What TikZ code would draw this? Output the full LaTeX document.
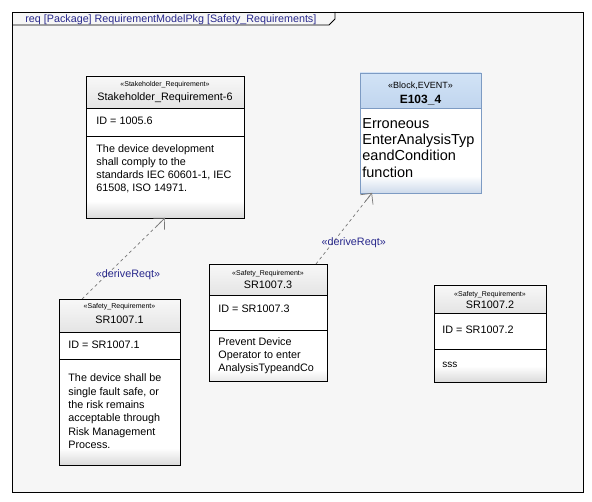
\documentclass[tikz,border=0pt]{standalone}
\usepackage{fontspec}
\setmainfont{Liberation Sans}
\usetikzlibrary{arrows.meta,calc}
\definecolor{navy}{RGB}{40,40,140}
\definecolor{framebg}{RGB}{246,246,246}
\definecolor{hdtop}{RGB}{248,248,248}
\definecolor{hdbot}{RGB}{228,228,228}
\definecolor{bandgray}{RGB}{218,218,218}
\definecolor{blkline}{RGB}{125,155,195}
\definecolor{blktop}{RGB}{210,227,246}
\definecolor{blkbot}{RGB}{192,213,238}
\definecolor{blkband}{RGB}{205,218,235}
\definecolor{linkgray}{RGB}{120,120,120}
\tikzset{
  boxframe/.style={draw,anchor=north west,inner sep=0pt,outer sep=0pt},
  stereo/.style={font=\fontsize{7}{8}\selectfont,inner sep=0pt,anchor=base},
  boxname/.style={font=\fontsize{10.8}{13}\selectfont,inner sep=0pt,anchor=base},
  idtext/.style={font=\fontsize{10.8}{13}\selectfont,inner sep=0pt,anchor=base west},
  bodytext/.style={font=\fontsize{10.8}{13.2}\selectfont,align=left,inner sep=0pt,anchor=north west},
  derive/.style={draw=linkgray,line width=0.7pt,dash pattern=on 3pt off 3pt},
  derivetip/.style={draw=linkgray,line width=0.7pt,-{Straight Barb[length=8pt,width=16pt]}},
  derivelabel/.style={text=navy,font=\fontsize{10.8}{13}\selectfont,inner sep=0pt,anchor=base},
}
\begin{document}
\begin{tikzpicture}[x=1pt,y=-1pt,line width=0.8pt]
\useasboundingbox (0,0) rectangle (592,502);
\fill[white] (0,0) rectangle (592,502);
% diagram frame
\filldraw[fill=framebg,draw=black] (12,12) rectangle (583,492);
\draw (12,25) -- (329,25) -- (335,19) -- (335,12);
\node[text=navy,font=\fontsize{10.75}{13}\selectfont,inner sep=0pt,anchor=base west] (frametitle) at (25,22.4)
  {req [Package] RequirementModelPkg [Safety\_Requirements]};

% Stakeholder_Requirement-6
\shade[top color=hdtop,bottom color=hdbot] (86,76) rectangle (244,108);
\fill[white] (86,108) rectangle (244,218);
\shade[top color=white,bottom color=bandgray] (86,201) rectangle (244,218);
\node[boxframe,minimum width=158pt,minimum height=142pt] (stk) at (86,76) {};
\draw (86,108) -- (244,108) (86,136) -- (244,136);
\node[stereo] (stkst) at (165,86.5) {«Stakeholder\_Requirement»};
\node[boxname] (stkname) at (165,100.6) {Stakeholder\_Requirement-6};
\node[idtext] (stkid) at (96,124.6) {ID = 1005.6};
\node[bodytext] (stkbody) at (96,144) {The device development\\shall comply to the\\standards IEC 60601-1, IEC\\61508, ISO 14971.};

% E103_4
\shade[top color=blktop,bottom color=blkbot] (360,73) rectangle (481,108);
\fill[white] (360,108) rectangle (481,193);
\shade[top color=white,bottom color=blkband] (360,176) rectangle (481,193);
\node[boxframe,draw=blkline,minimum width=121pt,minimum height=120pt] (blk) at (360,73) {};
\draw[blkline] (360,108) -- (481,108);
\node[stereo,font=\fontsize{9}{10}\selectfont] (blkst) at (420.5,89) {«Block,EVENT»};
\node[boxname,font=\bfseries\fontsize{12}{14}\selectfont] (blkname) at (420.5,103.6) {E103\_4};
\node[bodytext,font=\fontsize{14.5}{16.2}\selectfont] (blkbody) at (362,118.1) {Erroneous\\EnterAnalysisTyp\\eandCondition\\function};

% SR1007.1
\shade[top color=hdtop,bottom color=hdbot] (59,299) rectangle (180,332);
\fill[white] (59,332) rectangle (180,465);
\shade[top color=white,bottom color=bandgray] (59,448) rectangle (180,465);
\node[boxframe,minimum width=121pt,minimum height=166pt] (sr1) at (59,299) {};
\draw (59,332) -- (180,332) (59,359) -- (180,359);
\node[stereo] (sr1st) at (119.5,308.2) {«Safety\_Requirement»};
\node[boxname] (sr1name) at (119.5,323.2) {SR1007.1};
\node[idtext] (sr1id) at (68,348.9) {ID = SR1007.1};
\node[bodytext,font=\fontsize{10.8}{13.4}\selectfont] (sr1body) at (68,373.4) {The device shall be\\single fault safe, or\\the risk remains\\acceptable through\\Risk Management\\Process.};

% SR1007.3
\shade[top color=hdtop,bottom color=hdbot] (209,264) rectangle (327,295);
\fill[white] (209,295) rectangle (327,381);
\shade[top color=white,bottom color=bandgray!60!white] (209,370) rectangle (327,381);
\node[boxframe,minimum width=118pt,minimum height=117pt] (sr3) at (209,264) {};
\draw (209,295) -- (327,295) (209,330) -- (327,330);
\node[stereo] (sr3st) at (268,275.8) {«Safety\_Requirement»};
\node[boxname] (sr3name) at (268,288.8) {SR1007.3};
\node[idtext] (sr3id) at (218,312.2) {ID = SR1007.3};
\node[bodytext,font=\fontsize{10.8}{13}\selectfont] (sr3body) at (218,337.1) {Prevent Device\\Operator to enter\\AnalysisTypeandCo};

% SR1007.2
\shade[top color=hdtop,bottom color=hdbot] (434,285) rectangle (546,313);
\fill[white] (434,313) rectangle (546,382);
\shade[top color=white,bottom color=bandgray] (434,366) rectangle (546,382);
\node[boxframe,minimum width=112pt,minimum height=97pt] (sr2) at (434,285) {};
\draw (434,313) -- (546,313) (434,349) -- (546,349);
\node[stereo] (sr2st) at (490,296.5) {«Safety\_Requirement»};
\node[boxname] (sr2name) at (490,309) {SR1007.2};
\node[idtext] (sr2id) at (442,334) {ID = SR1007.2};
\node[idtext,font=\fontsize{10}{12}\selectfont] (sr2body) at (442,367.5) {sss};

% deriveReqt links
\coordinate (sr1top) at ([xshift=23pt]sr1.north west);
\coordinate (sr3top) at ([xshift=-11pt]sr3.north east);
\coordinate (blkfoot) at ([xshift=12pt]blk.south west);
\draw[derive] (sr1top) -- (stk.south);
\draw[derivetip] ($(sr1top)!0.9!(stk.south)$) -- (stk.south);
\node[derivelabel] (lbl1) at (128,277.2) {«deriveReqt»};
\draw[derive] (sr3top) -- (blkfoot);
\draw[derivetip] ($(sr3top)!0.88!(blkfoot)$) -- (blkfoot);
\node[derivelabel] (lbl2) at (353.7,245.6) {«deriveReqt»};
\end{tikzpicture}
\end{document}
